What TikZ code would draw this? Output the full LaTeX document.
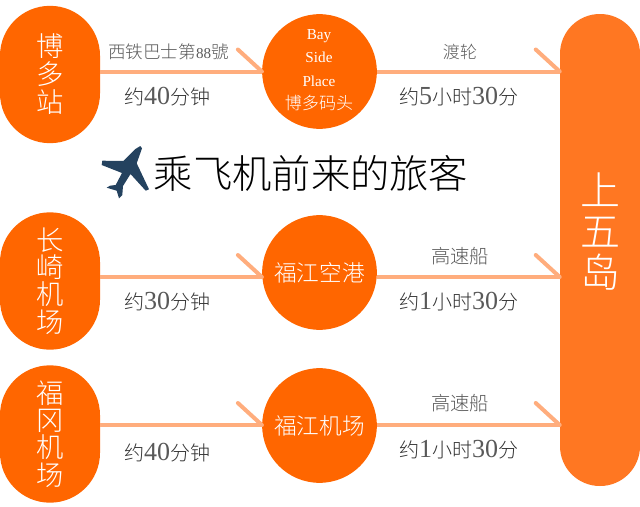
\documentclass[tikz,border=0pt]{standalone}
\usepackage{fontspec}
\usepackage{color}
\usetikzlibrary{positioning}
\setmainfont{Liberation Serif}
\newfontfamily\cjk{Noto Sans CJK SC Light}
\newcommand{\tnum}[1]{{\rmfamily\fontsize{19.5}{15}\selectfont\color{black!65}#1}}
\definecolor{stopcol}{HTML}{FF6600}
\definecolor{islandcol}{HTML}{FF7722}
\definecolor{linkcol}{HTML}{FFAD7D}
\definecolor{planecol}{HTML}{24425F}
\tikzstyle{pill} = [fill=stopcol, rounded corners=37.4pt, minimum width=75pt,
    minimum height=103pt, inner sep=0pt, text=white, align=center, font=\cjk\fontsize{20.5}{20.5}\selectfont]
\tikzstyle{port} = [circle, fill=stopcol, minimum size=86pt, inner sep=0pt,
    text=white, align=center, font=\cjk\fontsize{17}{20}\selectfont]
\tikzstyle{link} = [linkcol, line width=3pt]
\tikzstyle{hook} = [linkcol, line width=3pt, line cap=round]
\tikzstyle{via} = [inner sep=0pt, text=black!65, font=\cjk\fontsize{14.5}{15}\selectfont]
\tikzstyle{time} = [inner sep=0pt, text=black!80, font=\cjk\fontsize{15}{15}\selectfont]

\begin{document}
\begin{tikzpicture}[x=0.75pt, y=-0.75pt]
  \useasboundingbox (0,0) rectangle (640,507);
  \fill [white] (0,0) rectangle (640,507);
  % stops on the left
  \node [pill] (hakata) at (50,74.5) {博\\[0.5pt]多\\[0.5pt]站};
  \node [pill] (nagasaki) at (50,281) {长\\崎\\机\\场};
  \node [pill] (fukuoka) at (50,434) {福\\冈\\机\\场};
  % ports
  \node [port] (bayside) at (319.5,71.5) {};
  \node [port] (fukuesea) at (319.5,272.5) {福江空港};
  \node [port] (fukueair) at (319.5,425.5) {福江机场};
  \node [inner sep=0pt, text=white, align=center, font=\rmfamily\fontsize{11.4}{17.6}\selectfont] (baylabel)
    at (319,70) {Bay\\Side\\Place\\{\cjk\fontsize{12.8}{17.6}\selectfont 博多码头}};
  % the island
  \node [pill, fill=islandcol, rounded corners=29.9pt, minimum width=60pt, minimum height=354pt] (goto) at (600,250) {};
  \node [inner sep=0pt, text=white, align=center, font=\cjk\fontsize{30}{30.5}\selectfont] (gotolabel)
    at (600,231.5) {上\\五\\岛};
  \coordinate (rowa) at (300,71.5);
  \coordinate (rowb) at (300,277);
  \coordinate (rowc) at (300,425);
  \foreach \from/\mid/\row in {hakata/bayside/rowa, nagasaki/fukuesea/rowb, fukuoka/fukueair/rowc} {
    \draw [link] (\row -| \from.east) -- (\row -| \mid.west);
    \draw [link] (\row -| \mid.east) -- (\row -| goto.west);
    \draw [hook] ([shift={(-24,-22)}]\row -| \mid.west) -- (\row -| \mid.west);
    \draw [hook] ([shift={(-24,-22)}]\row -| goto.west) -- (\row -| goto.west);
  }
  % labels over and under the lines
  \node [via, font=\cjk\fontsize{13.2}{13}\selectfont] (busa) at (168.5,52) {西铁巴士第{\rmfamily\fontsize{11.3}{12}\selectfont 88}號};
  \node [via, font=\cjk\fontsize{12.8}{13}\selectfont] (ferrya) at (460,52) {渡轮};
  \node [via] (jetb) at (460,256) {高速船};
  \node [via] (jetc) at (460,403) {高速船};
  \node [time] (tima) at (167,97) {约\tnum{40}分钟};
  \node [time] (timb) at (167,302) {约\tnum{30}分钟};
  \node [time] (timc) at (167,453) {约\tnum{40}分钟};
  \node [time] (timd) at (458.5,97) {约\tnum{5}小时\tnum{30}分};
  \node [time] (time) at (458.5,302) {约\tnum{1}小时\tnum{30}分};
  \node [time] (timf) at (458.5,450) {约\tnum{1}小时\tnum{30}分};
  % plane and title
  \node [inner sep=0pt, font=\cjk\fontsize{29.5}{30}\selectfont] (title) at (311,173) {乘飞机前来的旅客};
  \fill [planecol] (140.3,146) -- (142,148.3) -- (136.7,163.3) -- (149,189.3) -- (145.7,190.7) -- (130.5,174)
    -- (123,186) -- (122.3,195) -- (119,198.3) -- (116.7,190.7) -- (106.7,187.7) -- (110,185.7) -- (115.7,185)
    -- (122,173) -- (101.7,165) -- (102.3,160.7) -- (123.3,161) -- (135,149.3) -- cycle;
\end{tikzpicture}
\end{document}
